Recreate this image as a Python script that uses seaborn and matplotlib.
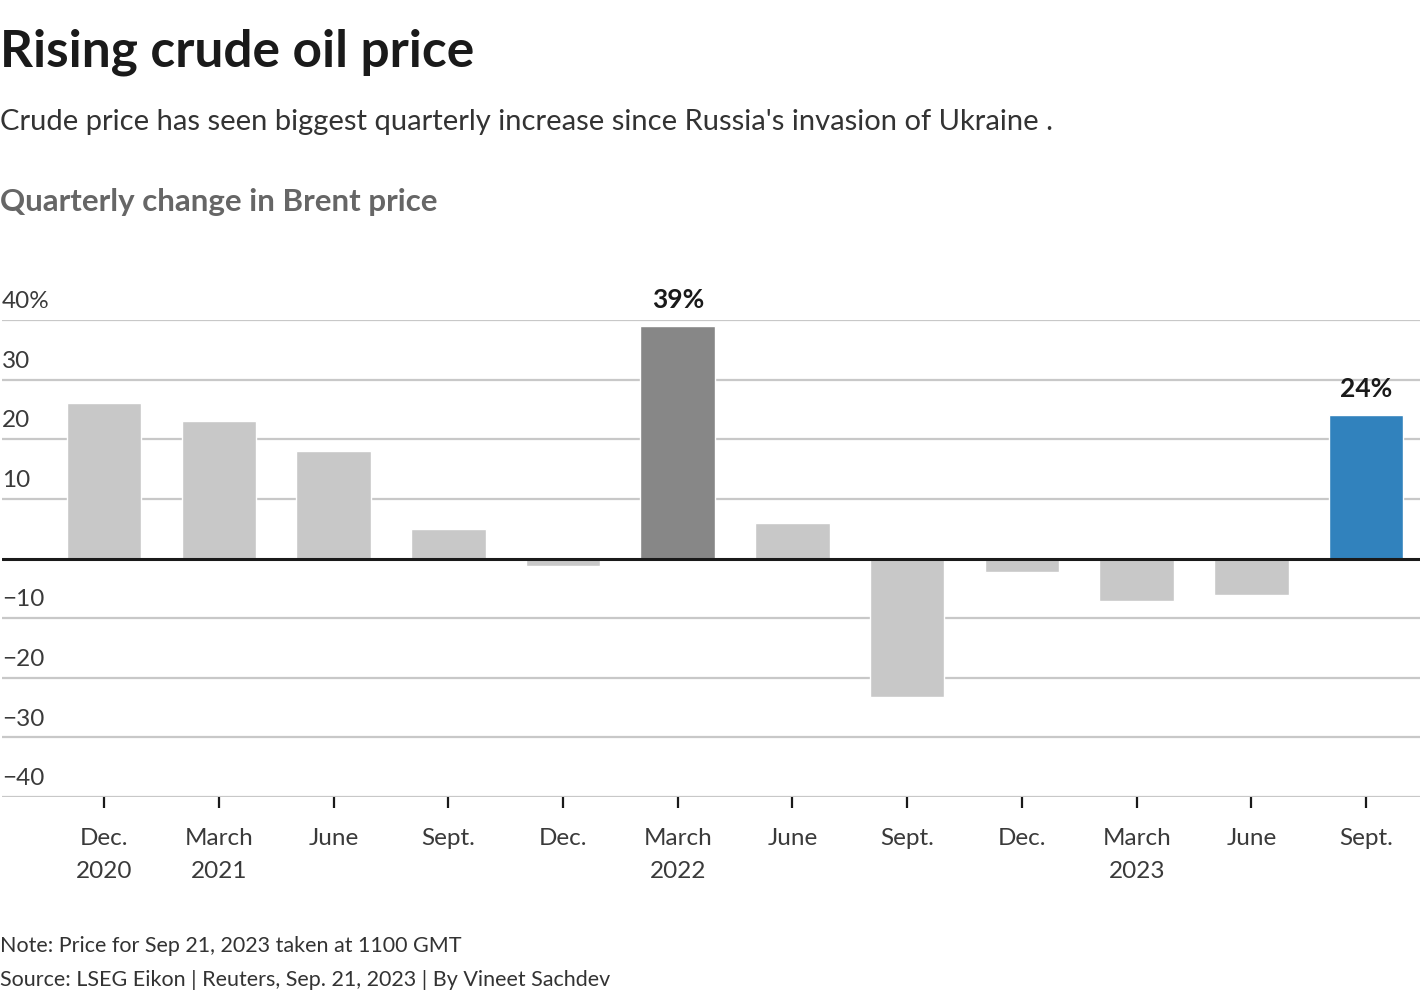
import pandas as pd
import seaborn as sns
import matplotlib.pyplot as plt
import matplotlib.transforms as mtransforms

# Quarterly change in Brent price, %
quarters = ['Dec. 2020', 'March 2021', 'June 2021', 'Sept. 2021', 'Dec. 2021',
            'March 2022', 'June 2022', 'Sept. 2022', 'Dec. 2022', 'March 2023',
            'June 2023', 'Sept. 2023']
change = [26.0, 23.0, 18.0, 4.9, -1.2, 39.0, 5.9, -23.2, -2.2, -7.2, -6.2, 24.0]
tick_labels = ['Dec.\n2020', 'March\n2021', 'June', 'Sept.', 'Dec.', 'March\n2022',
               'June', 'Sept.', 'Dec.', 'March\n2023', 'June', 'Sept.']
y_ticks = [40, 30, 20, 10, -10, -20, -30, -40]
y_tick_labels = ['40%', '30', '20', '10', '\u221210', '\u221220', '\u221230', '\u221240']
highlights = {'March 2022': '39%', 'Sept. 2023': '24%'}

bar_colors = ['#c8c8c8'] * len(quarters)
bar_colors[5] = '#878787'
bar_colors[11] = '#3182bd'

sns.set_style('white')
plt.rcParams['font.family'] = ['Lato', 'DejaVu Sans']

df = pd.DataFrame({'quarter': quarters, 'change': change})

fig = plt.figure(figsize=(14.2, 10), dpi=100)
ax = fig.add_axes([0.0014, 0.203, 0.9986, 0.477])

sns.barplot(data=df, x='quarter', y='change', hue='quarter', palette=bar_colors,
            legend=False, width=0.65, saturation=1, ax=ax, zorder=3)

ax.set_xlim(-0.89, 11.47)
ax.set_ylim(-40, 40)
for s in ax.spines.values():
    s.set_visible(False)

# grid lines
for t in y_ticks:
    ax.axhline(t, color='#c8c8c8', lw=1.6, zorder=1)
ax.axhline(0, color='#1a1a1a', lw=2.2, zorder=4)

ax.set_yticks([])
trans = mtransforms.blended_transform_factory(ax.transAxes, ax.transData)
for t, lab in zip(y_ticks, y_tick_labels):
    ax.text(0.0, t + 1.3, lab, transform=trans, ha='left', va='bottom',
            fontsize=17.5, color='#3a3a3a')

ax.set_xlabel('')
ax.set_ylabel('')
ax.set_xticks(range(len(quarters)))
ax.set_xticklabels(tick_labels, fontsize=17.5, color='#3a3a3a', linespacing=1.75)
ax.tick_params(axis='x', length=8, width=1.6, color='#1a1a1a', pad=14, bottom=True)

for i, q in enumerate(quarters):
    if q in highlights:
        ax.text(i, change[i] + 2.4, highlights[q], ha='center', va='bottom',
                fontsize=19, fontweight='bold', color='#1a1a1a')

fig.text(0.0, 0.948, 'Rising crude oil price', fontsize=37, fontweight='bold',
         color='#1a1a1a', va='center', ha='left')
fig.text(0.0, 0.878, "Crude price has seen biggest quarterly increase since Russia's invasion of Ukraine .",
         fontsize=21, color='#333333', va='center', ha='left')
fig.text(0.0, 0.798, 'Quarterly change in Brent price', fontsize=22.5, fontweight='bold',
         color='#666666', va='center', ha='left')
fig.text(0.0, 0.054, 'Note: Price for Sep 21, 2023 taken at 1100 GMT', fontsize=15.5,
         color='#333333', va='center', ha='left')
fig.text(0.0, 0.02, 'Source: LSEG Eikon | Reuters, Sep. 21, 2023 | By Vineet Sachdev',
         fontsize=15.5, color='#333333', va='center', ha='left')

fig.savefig('out.png', dpi=100, facecolor='white')
